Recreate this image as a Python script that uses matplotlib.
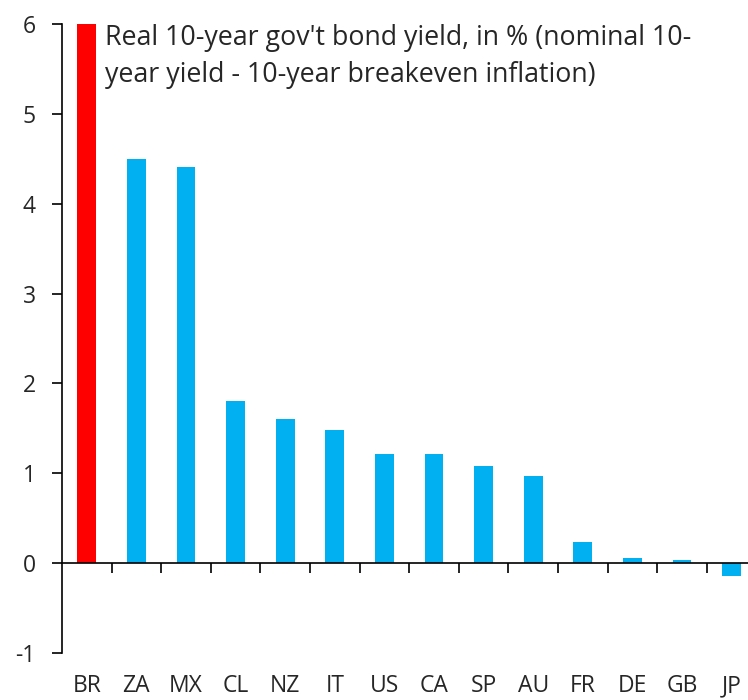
import matplotlib
matplotlib.use("Agg")
import matplotlib.pyplot as plt

# real 10-year government bond yields (nominal minus breakeven), in %
countries = ["BR", "ZA", "MX", "CL", "NZ", "IT", "US", "CA", "SP", "AU", "FR", "DE", "GB", "JP"]
real_yield = [6.0, 4.5, 4.41, 1.8, 1.6, 1.48, 1.21, 1.21, 1.08, 0.97, 0.23, 0.055, 0.03, -0.14]
highlight = ["BR"]

plt.rcParams["font.family"] = ["Open Sans", "DejaVu Sans"]
plt.rcParams["axes.unicode_minus"] = False

W, H = 748, 700
fig = plt.figure(figsize=(W / 100, H / 100), dpi=100)
# plot area runs slightly past the right edge of the figure
ax = fig.add_axes([62 / W, 47 / H, 694.4 / W, 629 / H])

colors = ["#FF0000" if c in highlight else "#00B0F0" for c in countries]
xs = list(range(len(countries)))
ax.bar(xs, real_yield, width=0.38, color=colors, zorder=2)

ax.set_xlim(-0.5, len(countries) - 0.5)
ax.set_ylim(-1, 6)
ax.set_yticks(range(-1, 7))
ax.tick_params(axis="y", direction="out", length=7, width=1.2, pad=12, labelsize=16.5,
               color="#000000", labelcolor="#262626")

ax.spines["top"].set_visible(False)
ax.spines["right"].set_visible(False)
ax.spines["left"].set_linewidth(1.2)
ax.spines["bottom"].set_position(("data", 0))
ax.spines["bottom"].set_linewidth(1.2)

# ticks between categories on the zero line
ax.set_xticks([x + 0.5 for x in xs[:-1]])
ax.set_xticklabels([])
ax.tick_params(axis="x", direction="out", length=7, width=1.2)

# category labels sit below the bottom of the axis
for x, c in zip(xs, countries):
    ax.annotate(c, xy=(x, 0), xycoords=("data", "axes fraction"),
                xytext=(0, -39), textcoords="offset pixels",
                ha="center", va="baseline", fontsize=16.5, color="#262626")

ax.text(0.37, 6.0,
        "Real 10-year gov't bond yield, in % (nominal 10-\nyear yield - 10-year breakeven inflation)",
        ha="left", va="top", fontsize=19.3, color="#262626", linespacing=1.45, clip_on=False)

fig.savefig("out.png", dpi=100)
